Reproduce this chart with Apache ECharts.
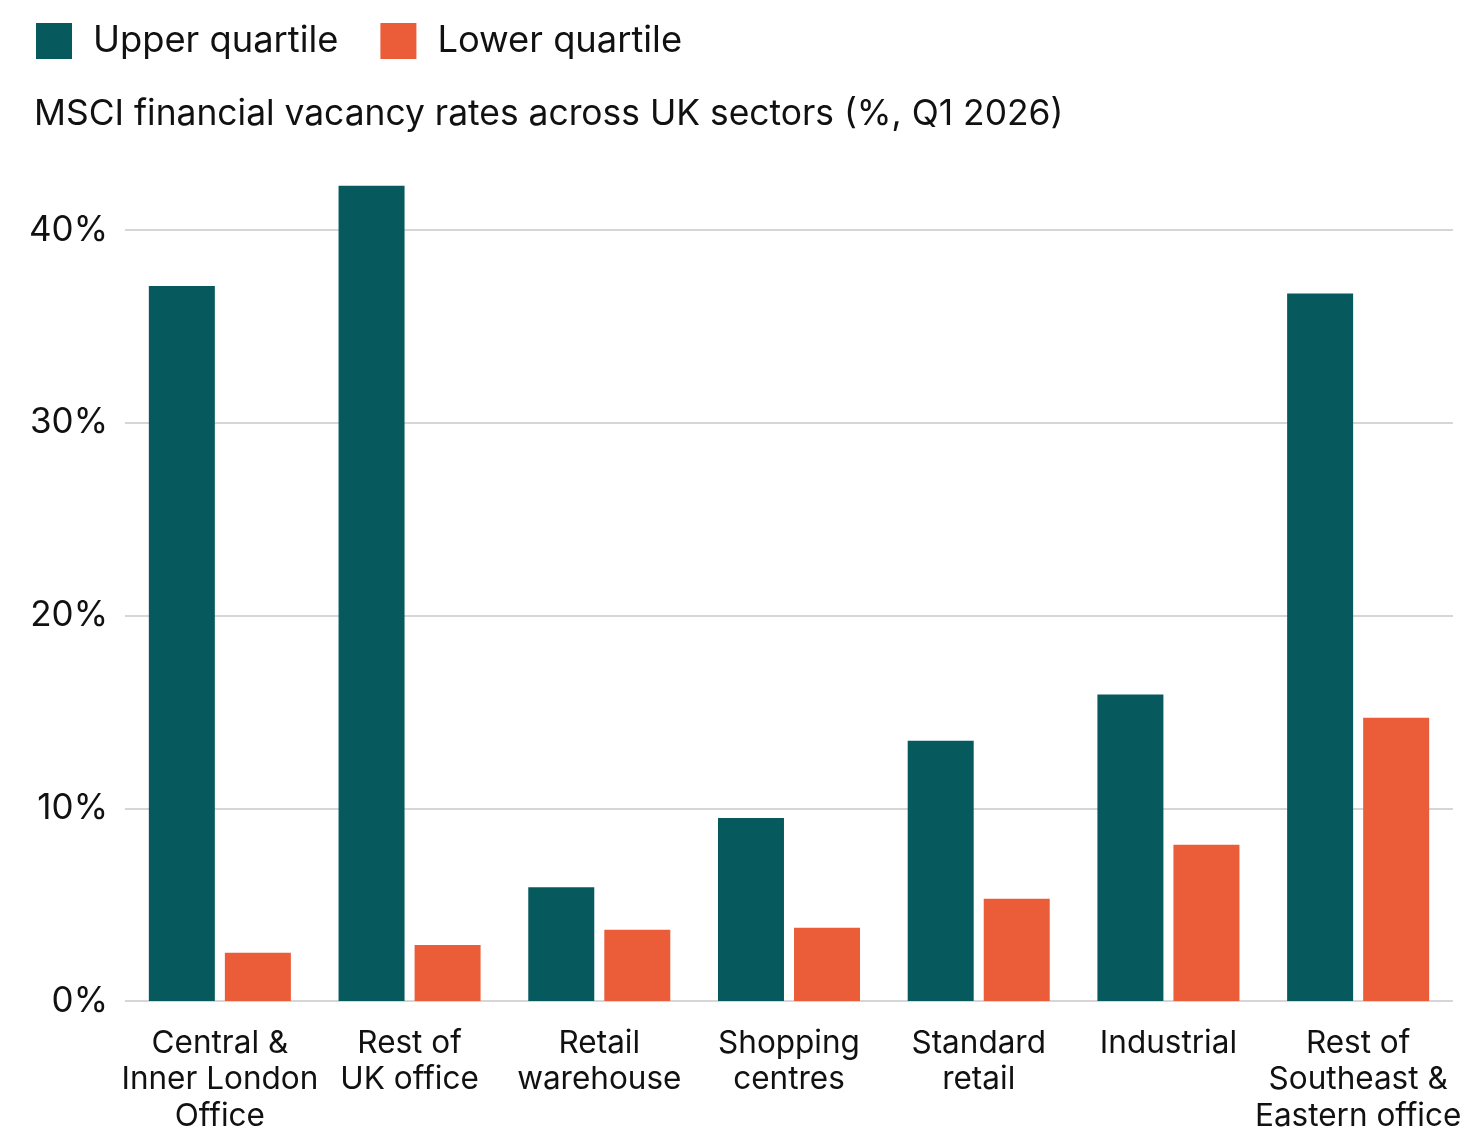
<!DOCTYPE html>
<html><head><meta charset="utf-8">
<script src="https://cdn.jsdelivr.net/npm/echarts@6/dist/echarts.min.js"></script>
<style>html,body{margin:0;padding:0;background:#fff;overflow:hidden}#c{width:1461px;height:1129px}</style>
</head><body><div id="c"></div>
<script>
const categories = ['Central &\nInner London\nOffice','Rest of\nUK office','Retail\nwarehouse','Shopping\ncentres','Standard\nretail','Industrial','Rest of\nSoutheast &\nEastern office'];
const upperQuartile = [37.1, 42.3, 5.9, 9.5, 13.5, 15.9, 36.7];
const lowerQuartile = [2.5, 2.9, 3.7, 3.8, 5.3, 8.1, 14.7];
const yTicks = [0, 10, 20, 30, 40];

const FONT = 'Inter, "Noto Sans", sans-serif';
const chart = echarts.init(document.getElementById('c'), null, {renderer:'canvas'});
chart.setOption({
  animation: false,
  textStyle: {fontFamily: FONT},
  title: {
    text: 'MSCI financial vacancy rates across UK sectors (%, Q1 2026)',
    left: 29, top: 92,
    textStyle: {fontFamily: FONT, fontSize: 35.4, fontWeight: 'normal', color: '#111'}
  },
  legend: {
    left: 31, top: 18, itemWidth: 36, itemHeight: 36, itemGap: 42, icon: 'rect',
    textStyle: {fontFamily: FONT, fontSize: 36.3, color: '#111', padding: [0,0,0,16]},
    data: ['Upper quartile','Lower quartile']
  },
  grid: {left: 125, right: 8, top: 230, height: 771, containLabel: false, outerBoundsMode: 'none'},
  xAxis: {
    type: 'category', data: categories,
    axisLine: {show: false}, axisTick: {show: false},
    axisLabel: {fontFamily: FONT, fontSize: 31.5, lineHeight: 36.5, color: '#111', margin: 24, interval: 0, align: 'center'}
  },
  yAxis: {
    type: 'value', min: yTicks[0], max: yTicks[yTicks.length-1], interval: 10,
    axisLine: {show: false}, axisTick: {show: false},
    axisLabel: {fontFamily: FONT, fontSize: 35, color: '#111', margin: 17, formatter: v => v + '%'},
    splitLine: {lineStyle: {color: '#d6d6d6', width: 2}}
  },
  series: [
    {name: 'Upper quartile', type: 'bar', data: upperQuartile, barWidth: 66, barGap: '15.2%', clip: false,
     itemStyle: {color: '#065a5e'}},
    {name: 'Lower quartile', type: 'bar', data: lowerQuartile, barWidth: 66, barGap: '15.2%', clip: false,
     itemStyle: {color: '#eb5c38'}}
  ]
});
</script></body></html>
